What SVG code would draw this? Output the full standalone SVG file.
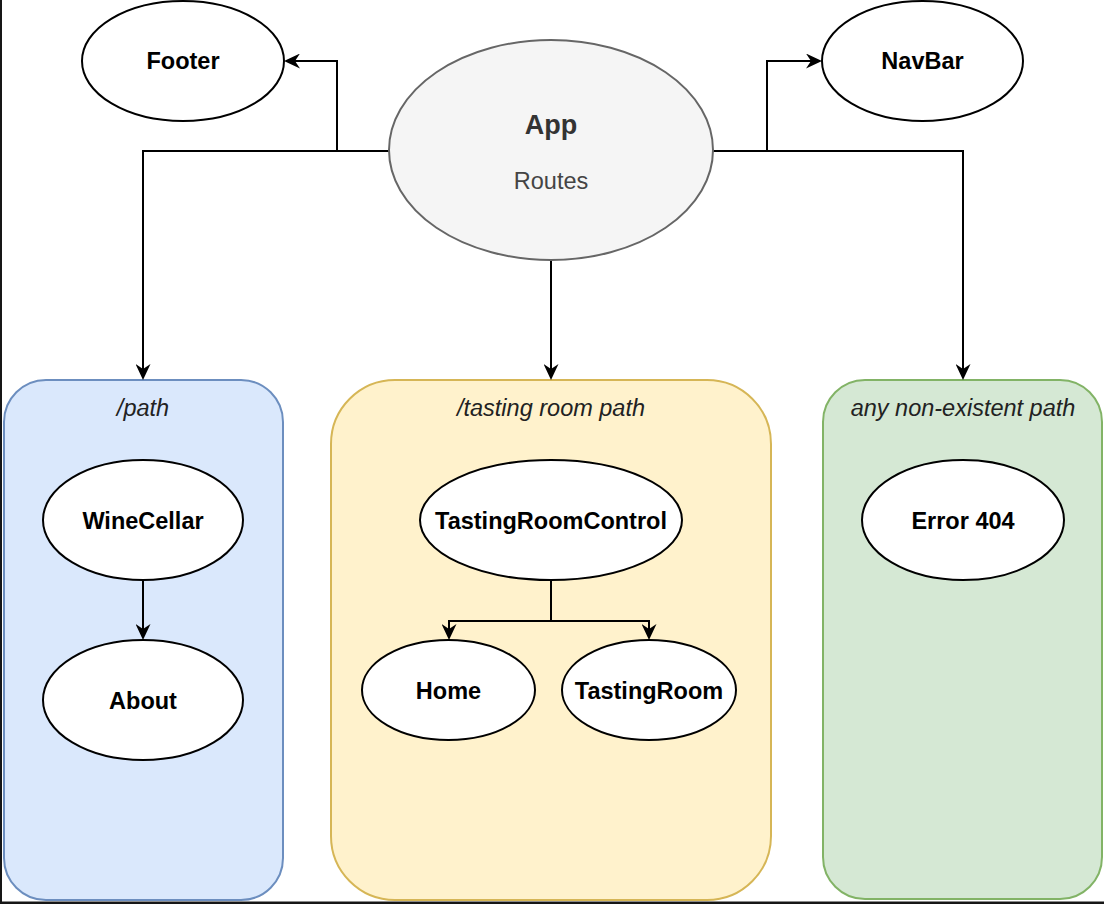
<svg xmlns="http://www.w3.org/2000/svg" width="1104" height="904" viewBox="0 0 1104 904">
<style>
  .node { fill: #ffffff; stroke: #000000; stroke-width: 2; }
  .lbl { font-family: "Liberation Sans", Arial, Helvetica, sans-serif; font-size: 23.5px; font-weight: bold; fill: #000000; text-anchor: middle; }
  .glbl { font-family: "Liberation Sans", Arial, Helvetica, sans-serif; font-size: 23.5px; font-style: italic; fill: #222222; text-anchor: middle; }
  .edge { fill: none; stroke: #000000; stroke-width: 2; marker-end: url(#arrow); }
  .edge2 { fill: none; stroke: #000000; stroke-width: 2; }
</style>
<defs>
  <marker id="arrow" markerUnits="userSpaceOnUse" markerWidth="16" markerHeight="15" refX="5" refY="7.5" orient="auto" viewBox="0 0 16 15">
    <path d="M0,0 L16,7.5 L0,15 L5,7.5 Z" fill="#000000"/>
  </marker>
</defs>
<rect x="0" y="0" width="1104" height="904" fill="#ffffff"/>

<g id="group-path">
  <rect x="4" y="380" width="279" height="520" rx="42" ry="42" fill="#dae8fc" stroke="#6c8ebf" stroke-width="2"/>
  <text class="glbl" x="143" y="416">/path</text>
</g>
<g id="group-tasting">
  <rect x="331" y="380" width="440" height="520" rx="64" ry="64" fill="#fff2cc" stroke="#d6b656" stroke-width="2"/>
  <text class="glbl" x="551" y="416">/tasting room path</text>
</g>
<g id="group-error">
  <rect x="823" y="380" width="279" height="519" rx="42" ry="42" fill="#d5e8d4" stroke="#82b366" stroke-width="2"/>
  <text class="glbl" x="963" y="416">any non-existent path</text>
</g>

<g id="connectors">
  <path class="edge" d="M389,151 H337 V61 H295"/>
  <path class="edge" d="M389,151 H143 V369"/>
  <path class="edge" d="M713,151 H767 V61 H811"/>
  <path class="edge" d="M713,151 H963 V369"/>
  <path class="edge" d="M551,260 V369"/>
  <path class="edge" d="M143,580 V629"/>
  <path class="edge" d="M551,580 V621 H449 V629"/>
  <path class="edge" d="M551,580 V621 H649 V629"/>
</g>

<g id="app">
  <ellipse cx="551" cy="150" rx="162" ry="110" fill="#f5f5f5" stroke="#666666" stroke-width="2"/>
  <text x="551" y="134" font-family="'Liberation Sans', Arial, Helvetica, sans-serif" font-size="27" font-weight="bold" fill="#333333" text-anchor="middle">App</text>
  <text x="551" y="189" font-family="'Liberation Sans', Arial, Helvetica, sans-serif" font-size="23.5" fill="#444444" text-anchor="middle">Routes</text>
</g>
<g id="footer">
  <ellipse class="node" cx="183" cy="61" rx="101" ry="60"/>
  <text class="lbl" x="183" y="69">Footer</text>
</g>
<g id="navbar">
  <ellipse class="node" cx="922.5" cy="61" rx="100.5" ry="60"/>
  <text class="lbl" x="922.5" y="69">NavBar</text>
</g>
<g id="winecellar">
  <ellipse class="node" cx="143" cy="520" rx="100" ry="60"/>
  <text class="lbl" x="143" y="529">WineCellar</text>
</g>
<g id="about">
  <ellipse class="node" cx="143" cy="700" rx="100" ry="60"/>
  <text class="lbl" x="143" y="709">About</text>
</g>
<g id="tastingroomcontrol">
  <ellipse class="node" cx="551" cy="520" rx="131" ry="60"/>
  <text class="lbl" x="551" y="529">TastingRoomControl</text>
</g>
<g id="home">
  <ellipse class="node" cx="448.5" cy="690" rx="86.5" ry="50"/>
  <text class="lbl" x="448.5" y="699">Home</text>
</g>
<g id="tastingroom">
  <ellipse class="node" cx="649" cy="690" rx="87" ry="50"/>
  <text class="lbl" x="649" y="699">TastingRoom</text>
</g>
<g id="error404">
  <ellipse class="node" cx="963" cy="520" rx="101" ry="60"/>
  <text class="lbl" x="963" y="529">Error 404</text>
</g>

<rect x="0" y="0" width="2" height="904" fill="#161616"/>
<rect x="0" y="901.5" width="1104" height="2.5" fill="#161616"/>
</svg>
